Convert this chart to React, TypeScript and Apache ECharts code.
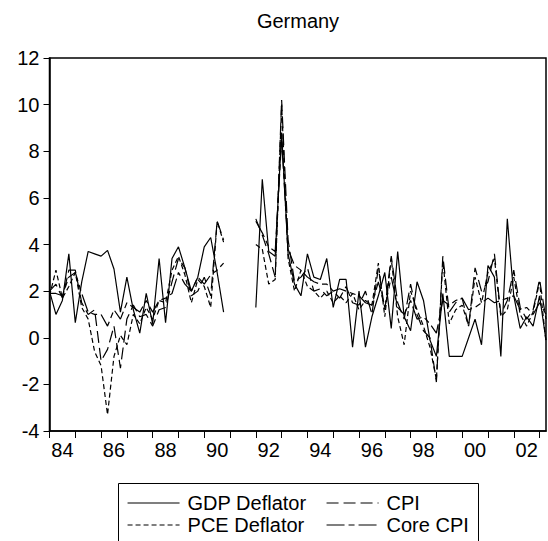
import React, { useEffect, useRef } from "react";
import * as echarts from "echarts";

const FONT = "'Liberation Sans', Arial, sans-serif";

// 1984Q1 .. 2003Q2
const START_YEAR = 1984;
const N_QUARTERS = 78;
const quarters: string[] = [];
for (let i = 0; i < N_QUARTERS; i++) {
  quarters.push(`${START_YEAR + Math.floor(i / 4)}Q${(i % 4) + 1}`);
}

const G = null; // reunification gap (1991)

const gdpDeflator = [
  2.0, 1.0, 1.6, 3.6, 0.65, 2.4, 3.7, 3.6, 3.5, 3.75, 2.95, 1.1, 2.6, 1.2, 0.2, 1.9,
  0.6, 3.4, 0.65, 3.4, 3.9, 3.0, 2.0, 2.6, 3.9, 4.3, 2.8, 1.1,
  G, G, G, G,
  1.3, 6.8, 3.7, 3.5, 8.8, 3.6, 2.3, 1.8, 3.6, 2.6, 2.5, 3.4, 1.3, 2.5, 2.5, -0.4,
  2.0, -0.4, 0.9, 1.8, 2.8, 0.4, 3.7, 0.9, 0.3, 2.4, 1.6, -0.1, -0.8, 1.9, -0.8, -0.8,
  -0.8, 0.0, 0.8, -0.3, 3.1, 2.6, -0.8, 5.1, 1.8, 0.4, 0.9, 0.5, 1.8, -0.1,
];

const cpi = [
  2.0, 2.3, 1.7, 2.9, 2.9, 1.5, 1.0, 1.2, -1.0, -0.5, 0.5, -1.3, 0.8, 1.4, 0.9, 1.0,
  0.5, 1.2, 1.3, 2.4, 3.4, 3.0, 1.8, 2.0, 2.6, 1.8, 5.0, 4.2,
  G, G, G, G,
  5.1, 4.4, 3.6, 2.6, 10.2, 4.2, 2.4, 2.6, 3.0, 2.0, 2.1, 1.8, 2.0, 1.7, 2.2, 1.5,
  1.4, 2.0, 1.0, 3.0, 1.2, 3.5, 1.5, 0.8, 2.3, 1.0, 0.3, 0.0, -1.9, 3.5, 1.1, 1.5,
  1.7, 0.5, 3.0, 2.0, 2.4, 3.6, 1.0, 1.6, 2.9, 1.3, 0.8, 1.2, 2.5, 0.8,
];

const pceDeflator = [
  1.8, 2.9, 1.7, 2.2, 2.8, 1.3, 0.8, -0.6, -1.2, -3.3, -0.8, 0.1, -0.3, 1.0, 0.6, 1.3,
  0.8, 1.6, 1.5, 2.9, 3.5, 2.7, 1.5, 2.5, 2.2, 1.3, 5.0, 4.1,
  G, G, G, G,
  4.0, 3.8, 2.3, 2.5, 10.0, 3.4, 2.0, 2.9, 2.2, 2.0, 1.7, 2.0, 1.5, 1.8, 1.5, 1.9,
  1.2, 1.6, 1.4, 3.2, 0.9, 3.4, 0.9, -0.3, 2.0, 1.2, 0.5, -0.4, -1.8, 3.3, 0.6, 1.2,
  1.4, 0.5, 2.6, 1.5, 2.8, 3.4, 0.9, 1.2, 2.6, 1.0, 0.5, 1.1, 2.4, -0.2,
];

const coreCpi = [
  1.9, 1.9, 1.8, 2.6, 2.8, 1.9, 1.1, 1.0, 1.0, 0.5, 1.2, 0.8, 1.5, 1.3, 1.1, 1.6,
  1.1, 1.6, 1.7, 1.9, 2.8, 2.3, 2.0, 2.6, 2.3, 2.7, 2.9, 3.2,
  G, G, G, G,
  5.0, 4.5, 3.9, 3.7, 8.5, 3.8, 3.1, 2.9, 2.6, 2.4, 2.3, 2.3, 2.0, 2.1, 2.0, 1.9,
  1.8, 1.5, 1.4, 2.4, 1.3, 2.6, 1.3, 1.0, 1.6, 0.8, 0.9, 0.6, 0.2, 1.6, 1.4, 1.6,
  1.7, 1.2, 1.3, 1.5, 1.7, 1.5, 1.6, 1.7, 1.8, 1.2, 1.3, 1.0, 1.5, 1.0,
];

const seriesNames = ["GDP Deflator", "CPI", "PCE Deflator", "Core CPI"];
const yTicks = { min: -4, max: 12, interval: 2 };

export default function App() {
  const ref = useRef<HTMLDivElement>(null);

  useEffect(() => {
    if (!ref.current) return;
    const chart = echarts.init(ref.current, undefined, { renderer: "svg" });

    const mkSeries = (name: string, data: (number | null)[], dash: any) => ({
      name,
      type: "line",
      data,
      symbol: "none",
      showSymbol: false,
      connectNulls: false,
      lineStyle: { color: "#000", width: 1.2, type: dash },
      itemStyle: { color: "#000" },
      emphasis: { disabled: true },
    });

    // legend slots: [name, left, top]
    const legendSlots: [string, number, number][] = [
      [seriesNames[0], 127, 493],
      [seriesNames[1], 326, 493],
      [seriesNames[2], 127, 515],
      [seriesNames[3], 326, 515],
    ];

    const legends = legendSlots.map(([name, left, top]) => ({
      left,
      top,
      orient: "horizontal",
      padding: 0,
      itemGap: 0,
      itemWidth: 52,
      itemHeight: 10,
      selectedMode: false,
      itemStyle: { opacity: 0, color: "transparent", borderColor: "transparent", borderWidth: 0 },
      lineStyle: { width: 1.1 },
      textStyle: {
        fontFamily: FONT,
        fontSize: 20,
        color: "#000",
        padding: [0, 0, 0, 3],
      },
      data: [name],
    }));

    chart.setOption({
      animation: false,
      backgroundColor: "#fff",
      textStyle: { fontFamily: FONT },
      graphic: [
        {
          type: "text",
          x: 298,
          y: 21,
          style: {
            text: "Germany",
            font: `20px ${FONT}`,
            fill: "#000",
            textAlign: "center",
            textVerticalAlign: "middle",
          },
        },
        {
          type: "rect",
          shape: { x: 118.5, y: 483.5, width: 360, height: 80 },
          style: { fill: "none", stroke: "#000", lineWidth: 1 },
          silent: true,
        },
      ],
      grid: {
        left: 49.5,
        right: 2,
        top: 58,
        bottom: 110,
        show: true,
        borderColor: "#000",
        borderWidth: 1.5,
        backgroundColor: "transparent",
      },
      legend: legends,
      xAxis: {
        type: "category",
        data: quarters,
        boundaryGap: false,
        axisLine: { show: true, onZero: false, lineStyle: { color: "#000", width: 1.5 } },
        axisTick: {
          show: true,
          inside: false,
          length: 7,
          interval: (idx: number) => idx % 4 === 0,
          lineStyle: { color: "#000", width: 1 },
        },
        axisLabel: {
          interval: (idx: number) => idx % 8 === 2,
          formatter: (v: string) => v.slice(2, 4),
          fontFamily: FONT,
          fontSize: 20,
          color: "#000",
          margin: 9,
        },
        splitLine: { show: false },
      },
      yAxis: {
        type: "value",
        min: yTicks.min,
        max: yTicks.max,
        interval: yTicks.interval,
        axisLine: { show: true, onZero: false, lineStyle: { color: "#000", width: 1.5 } },
        axisTick: { show: true, inside: false, length: 6, lineStyle: { color: "#000", width: 1 } },
        axisLabel: { fontFamily: FONT, fontSize: 20, color: "#000", margin: 10 },
        splitLine: { show: false },
      },
      series: [
        mkSeries(seriesNames[0], gdpDeflator, "solid"),
        mkSeries(seriesNames[1], cpi, [12, 5]),
        mkSeries(seriesNames[2], pceDeflator, [5, 3]),
        mkSeries(seriesNames[3], coreCpi, [18, 4, 6, 4]),
      ],
    });

    return () => chart.dispose();
  }, []);

  return (
    <div
      ref={ref}
      style={{ position: "fixed", left: 0, top: 0, width: 548, height: 541, background: "#fff" }}
    />
  );
}
